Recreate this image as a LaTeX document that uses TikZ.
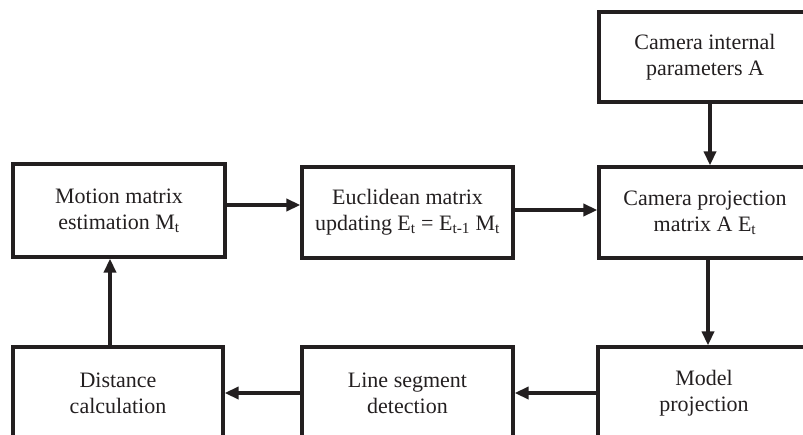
\documentclass[tikz,border=0pt]{standalone}
\usepackage{fontspec}
\setmainfont{Liberation Serif}
\usetikzlibrary{arrows.meta}
\definecolor{ink}{HTML}{231F20}
\begin{document}
\begin{tikzpicture}[x=1pt,y=-1pt,
  box/.style={draw=ink,line width=3.2pt,inner sep=0pt,align=center,text=ink,
    minimum width=212pt,minimum height=91pt,font=\fontsize{22}{26}\selectfont},
  arr/.style={draw=ink,line width=3.4pt,-{Triangle[length=14pt,width=12pt]}}]
\useasboundingbox (0,0) rectangle (803,434);
\clip (0,0) rectangle (803,434);
\node[box,minimum height=90pt] (cam) at (705,57) {Camera internal\\parameters A};
\node[box] (proj) at (705,212.5) {Camera projection\\matrix A E\textsubscript{t}};
\node[box,minimum height=93pt] (mot) at (119,210.5) {Motion matrix\\estimation M\textsubscript{t}};
\node[box,minimum width=211pt] (euc) at (407.5,212.5) {Euclidean matrix\\updating E\textsubscript{t} = E\textsubscript{t-1} M\textsubscript{t}};
\node[box,minimum width=210pt,minimum height=92pt] (dist) at (118,393) {Distance\\calculation};
\node[box,minimum width=211pt,minimum height=92pt] (line) at (407.5,393) {Line segment\\detection};
\node[box,minimum height=92pt] (model) at (704,393) {Model\\projection};
\draw[arr] ([xshift=5pt]cam.south) -- ([xshift=5pt]proj.north);
\draw[arr] ([xshift=3pt]proj.south) -- ([xshift=4pt]model.north);
\draw[arr] ([yshift=5.5pt]mot.east) -- ([yshift=7.5pt]euc.west);
\draw[arr] ([yshift=2.5pt]euc.east) -- ([yshift=2.5pt]proj.west);
\draw[arr] (model.west) -- (line.east);
\draw[arr] (line.west) -- (dist.east);
\draw[arr] ([xshift=-8pt]dist.north) -- ([xshift=-9pt]mot.south);
\end{tikzpicture}
\end{document}
